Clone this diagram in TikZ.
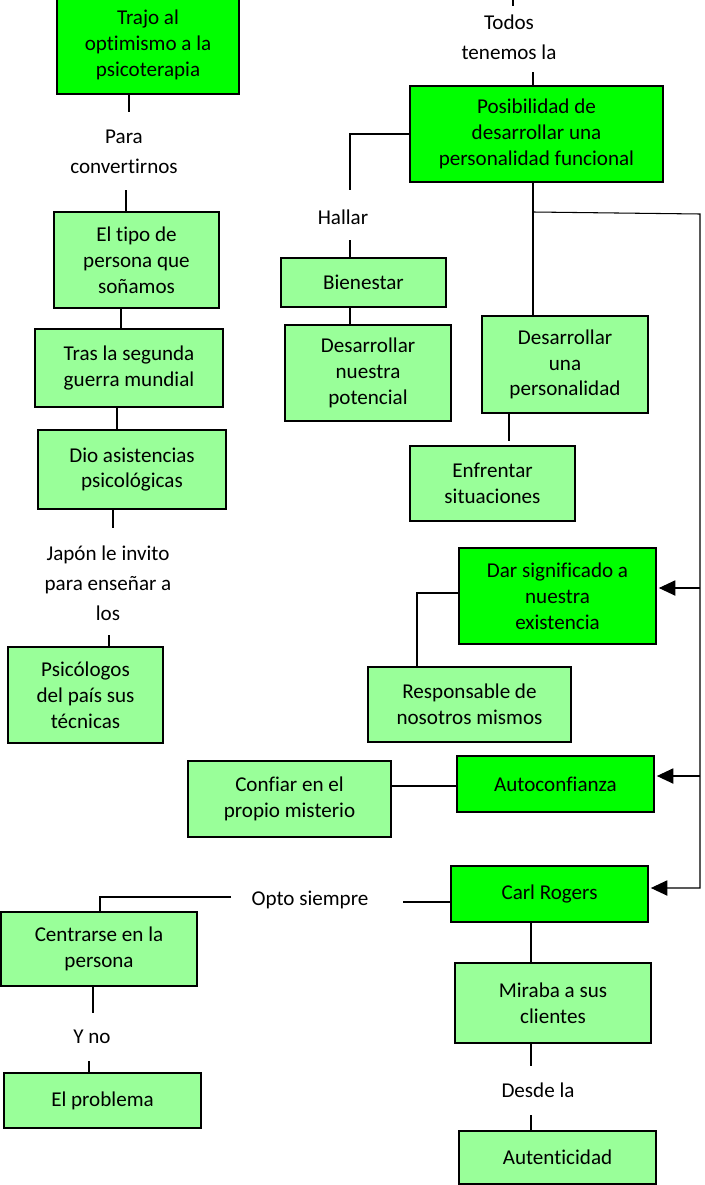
\documentclass[tikz,border=0pt]{standalone}
\usepackage{fontspec}
\setmainfont{Carlito}[Ligatures=NoCommon]
\usepackage{tikz}
\usetikzlibrary{positioning}
\usetikzlibrary{arrows.meta}

\definecolor{vivo}{HTML}{00FF00}
\definecolor{claro}{HTML}{99FF99}

\begin{document}
\begin{tikzpicture}[x=0.03cm, y=-0.03cm,
    caja/.style 2 args={draw=black, line width=0.9pt, align=center, inner sep=2pt,
      minimum width=#1*0.03cm, minimum height=#2*0.03cm,
      font=\fontsize{18}{22}\selectfont},
    fuerte/.style={fill=vivo},
    suave/.style={fill=claro},
    rotulo/.style={align=center, inner sep=0pt, font=\fontsize{18}{25.5}\selectfont},
    linea/.style={black, line width=1pt},
    flecha/.style={black, line width=0.9pt, -{Triangle[length=14pt,width=13pt]}, shorten >=2pt}]

      \useasboundingbox[fill=white] (0,0) rectangle (704,1185);

      % left column
      \node[caja={182}{98}, fuerte] (trajo) at (148,45) {Trajo al\\optimismo a la\\psicoterapia};
      \node[rotulo] (para) at (124,152) {Para\\convertirnos};
      \node[caja={165}{96}, suave] (tipo) at (136.5,260) {El tipo de\\persona que\\soñamos};
      \node[caja={188}{78}, suave] (tras) at (129,368) {Tras la segunda\\guerra mundial};
      \node[caja={188}{79}, suave] (dio) at (132,469.5) {Dio asistencias\\psicológicas};
      \node[rotulo] (japon) at (108,583) {Japón le invito\\para enseñar a\\los};
      \node[caja={155}{96}, suave] (psico) at (85.5,695) {Psicólogos\\del país sus\\técnicas};

      \draw[linea] (trajo.south -| 129,0) -- ++(0,17);
      \draw[linea] (tipo.north -| 126,0) -- ++(0,-21);
      \draw[linea] (tipo.south -| 121,0) -- (tras.north -| 121,0);
      \draw[linea] (tras.south -| 117,0) -- (dio.north -| 117,0);
      \draw[linea] (dio.south -| 113,0) -- ++(0,18);
      \draw[linea] (psico.north -| 109,0) -- ++(0,-11);

      % top right
      \coordinate (arriba) at (513,0);
      \node[rotulo] (todos) at (509,37) {Todos\\tenemos la};
      \node[caja={253}{96}, fuerte] (posib) at (536.5,134) {Posibilidad de\\desarrollar una\\personalidad funcional};
      \draw[linea] (arriba) -- ++(0,6);
      \draw[linea] (posib.north -| 533,0) -- ++(0,-13);

      % hallar
      \coordinate (hallarup) at (350,190);
      \node[rotulo] (hallar) at (343,217) {Hallar};
      \node[caja={165}{49}, suave] (bien) at (363.5,282.5) {Bienestar};
      \node[caja={166}{96}, suave] (potencial) at (368,373) {Desarrollar\\nuestra\\potencial};
      \draw[linea] (posib.west) -| (hallarup);
      \draw[linea] (bien.north -| 350,0) -- ++(0,-17);
      \draw[linea] (bien.south -| 350,0) -- (potencial.north -| 350,0);

      % desarrollar
      \node[caja={166}{97}, suave] (desper) at (565,364.5) {Desarrollar\\una\\personalidad};
      \node[caja={165}{75}, suave] (enfrentar) at (492.5,483.5) {Enfrentar\\situaciones};
      \draw[linea] (posib.south -| 533,0) -- (desper.north -| 533,0);
      \draw[linea] (desper.south -| 509,0) -- ++(0,27);

      % significado
      \node[caja={197}{96}, fuerte] (dar) at (557.5,596) {Dar significado a\\nuestra\\existencia};
      \node[caja={203}{75}, suave] (respon) at (469.5,704.5) {Responsable de\\nosotros mismos};
      \draw[linea] (dar.west |- 0,593) -| (respon.north -| 417,0);

      % autoconfianza
      \node[caja={197}{56}, fuerte] (autoconf) at (555.5,784) {Autoconfianza};
      \node[caja={203}{76}, suave] (confiar) at (289.5,799) {Confiar en el\\propio misterio};
      \draw[linea] (autoconf.west |- 0,786) -- (confiar.east |- 0,786);

      % Carl Rogers
      \node[caja={197}{56}, fuerte] (carl) at (549.5,894) {Carl Rogers};
      \node[rotulo] (opto) at (310,900) {Opto siempre};
      \coordinate (optoizq) at (231,897);
      \node[caja={196}{74}, suave] (centrar) at (99,949) {Centrarse en la\\persona};
      \node[rotulo] (yno) at (92,1037) {Y no};
      \node[caja={197}{55}, suave] (problema) at (102.5,1100.5) {El problema};
      \node[caja={196}{80}, suave] (miraba) at (553,1003) {Miraba a sus\\clientes};
      \node[rotulo] (desde) at (538,1090) {Desde la};
      \node[caja={197}{53}, suave] (autent) at (557.5,1157.5) {Autenticidad};

      \draw[linea] (carl.west |- 0,902) -- ++(-47,0);
      \draw[linea] (optoizq) -| (centrar.north -| 100,0);
      \draw[linea] (centrar.south -| 93,0) -- ++(0,26);
      \draw[linea] (problema.north -| 89,0) -- ++(0,-11);
      \draw[linea] (carl.south -| 531,0) -- (miraba.north -| 531,0);
      \draw[linea] (miraba.south -| 531,0) -- ++(0,22);
      \draw[linea] (autent.north -| 531,0) -- ++(0,-15);

      % arrows on the right
      \coordinate (rama) at (533,212);
      \coordinate (borde) at (700,214);
      \draw[flecha] (rama) -- (borde) |- (carl.east |- 0,888);
      \draw[flecha] (borde |- 0,588) -- (dar.east |- 0,588);
      \draw[flecha] (borde |- 0,776) -- (autoconf.east |- 0,776);

    \end{tikzpicture}
\end{document}
